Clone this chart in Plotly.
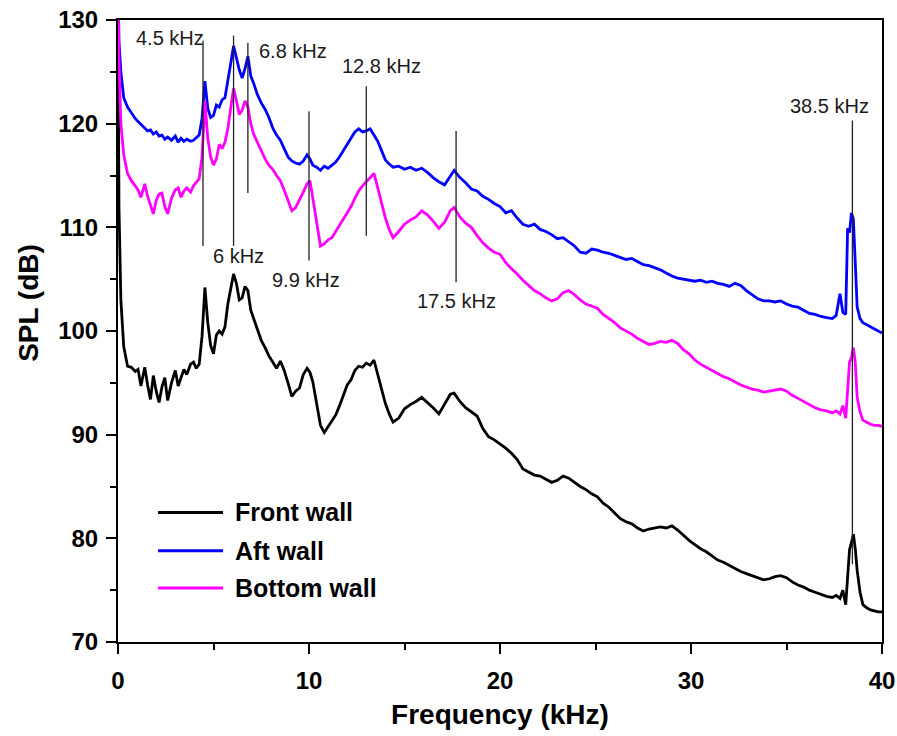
import plotly.graph_objects as go

# ---------------- data ----------------
freq = [
    0, 0.05, 0.15, 0.3, 0.5, 0.7, 0.9, 1.05, 1.2, 1.4,
    1.55, 1.7, 1.85, 2.0, 2.15, 2.3, 2.45, 2.6, 2.8, 3.0,
    3.15, 3.3, 3.45, 3.6, 3.8, 3.95, 4.1, 4.25, 4.4, 4.55,
    4.7, 4.85, 5.0, 5.15, 5.3, 5.45, 5.6, 5.75, 5.9, 6.05,
    6.2, 6.35, 6.5, 6.65, 6.8, 6.95, 7.1, 7.3, 7.5, 7.7,
    7.9, 8.1, 8.3, 8.5, 8.7, 8.9, 9.1, 9.3, 9.5, 9.7,
    9.9, 10.05, 10.2, 10.4, 10.6, 10.8, 11.0, 11.2, 11.4, 11.6,
    11.8, 12.0, 12.2, 12.4, 12.6, 12.8, 13.0, 13.2, 13.4, 13.6,
    13.8, 14.0, 14.2, 14.4, 14.7, 15.0, 15.3, 15.6, 15.9, 16.2,
    16.5, 16.8, 17.1, 17.4, 17.6, 17.9, 18.2, 18.5, 18.8, 19.1,
    19.4, 19.7, 20.0, 20.3, 20.6, 20.9, 21.2, 21.5, 21.8, 22.1,
    22.4, 22.7, 23.0, 23.3, 23.6, 23.9, 24.2, 24.5, 24.8, 25.1,
    25.4, 25.7, 26.0, 26.3, 26.6, 26.9, 27.2, 27.5, 27.8, 28.1,
    28.4, 28.7, 29.0, 29.3, 29.6, 29.9, 30.2, 30.5, 30.8, 31.1,
    31.4, 31.7, 32.0, 32.3, 32.6, 32.9, 33.2, 33.5, 33.8, 34.1,
    34.4, 34.7, 35.0, 35.3, 35.6, 35.9, 36.2, 36.5, 36.8, 37.1,
    37.4, 37.6, 37.8, 37.95, 38.1, 38.2, 38.3, 38.4, 38.5, 38.6,
    38.7, 38.85, 39.0, 39.2, 39.4, 39.6, 39.8, 40.0,
]

spl_front = [
    131, 112, 103, 98.5, 96.6, 96.5, 96.1, 96.3, 94.7, 96.5,
    94.8, 93.4, 95.7, 94.2, 93.1, 94.6, 95.5, 93.3, 95.0, 96.2,
    94.7, 95.6, 96.3, 95.8, 96.8, 97.0, 96.4, 96.8, 99.5, 104.2,
    100.8, 98.6, 97.8, 99.6, 100.0, 99.7, 100.4, 102.6, 104.0, 105.5,
    104.6, 103.0, 103.2, 104.3, 103.9, 102.0, 101.2, 100.2, 99.1, 98.4,
    97.6, 97.0, 96.4, 97.1, 96.2, 95.0, 93.7, 94.2, 94.5, 95.8,
    96.4, 96.0, 95.1, 93.0, 90.9, 90.2, 90.8, 91.4, 91.9, 92.8,
    93.9, 94.8, 95.3, 96.2, 96.6, 96.5, 96.9, 96.7, 97.2, 95.8,
    94.4, 93.0, 92.0, 91.2, 91.6, 92.5, 92.9, 93.2, 93.6, 93.1,
    92.6, 92.0, 93.0, 93.9, 94.0, 93.2, 92.6, 92.2, 91.8, 90.6,
    89.8, 89.5, 89.1, 88.7, 88.2, 87.6, 86.7, 86.4, 86.1, 86.0,
    85.7, 85.4, 85.6, 86.0, 85.8, 85.4, 85.0, 84.7, 84.3, 84.0,
    83.4, 83.0, 82.4, 81.9, 81.6, 81.4, 81.0, 80.7, 80.9, 81.0,
    81.1, 81.0, 81.2, 80.8, 80.3, 79.8, 79.4, 79.0, 78.7, 78.3,
    77.9, 77.7, 77.4, 77.1, 76.8, 76.6, 76.4, 76.2, 76.0, 76.1,
    76.3, 76.4, 76.2, 75.8, 75.5, 75.3, 75.0, 74.8, 74.6, 74.4,
    74.3, 74.5, 74.2, 75.0, 73.6, 76.5, 78.9, 79.6, 80.4, 79.0,
    76.9, 74.8, 73.6, 73.3, 73.1, 73.0, 72.9, 72.9,
]

spl_aft = [
    135, 128, 125, 122.5, 121.6, 121.0, 120.5, 120.2, 119.9, 119.5,
    119.3, 119.4, 119.0, 119.2, 118.8, 118.9, 118.5, 118.7, 118.4, 118.8,
    118.2, 118.6, 118.3, 118.5, 118.3, 118.4, 118.7, 118.9, 120.5, 124.1,
    121.5, 120.6, 120.8, 121.8, 121.6, 122.3, 122.5, 124.0, 125.8, 127.5,
    126.4, 125.2, 124.4, 125.3, 126.5, 124.6, 123.9, 122.8, 122.0, 121.4,
    120.6, 119.6, 118.9, 118.4, 117.6, 116.8, 116.4, 116.2, 116.1, 116.4,
    117.0, 116.6, 116.0, 115.8, 115.5, 115.9, 115.7, 116.0, 116.3, 116.8,
    117.4, 118.0, 118.6, 119.2, 119.5, 119.2, 119.3, 119.5, 118.9, 118.3,
    117.4, 116.5, 116.1, 115.8, 115.9, 115.6, 115.8, 115.5, 115.7, 115.3,
    114.8, 114.4, 114.1, 114.9, 115.5, 114.8, 114.3, 113.7, 113.5, 113.0,
    112.7, 112.3, 112.0, 111.4, 111.6, 110.9, 110.3, 110.1, 110.3, 109.8,
    109.6, 109.3, 108.9, 109.0, 108.6, 108.2, 107.6, 107.5, 107.9, 107.8,
    107.6, 107.5, 107.3, 107.1, 106.9, 107.0, 106.7, 106.4, 106.3, 106.1,
    105.9, 105.6, 105.3, 105.1, 105.0, 104.9, 104.8, 104.9, 104.7, 104.8,
    104.6, 104.5, 104.3, 104.6, 104.4, 103.9, 103.5, 103.1, 102.9, 102.9,
    102.8, 102.9, 102.6, 102.4, 102.3, 102.0, 101.7, 101.6, 101.4, 101.3,
    101.2, 101.5, 103.6, 101.8, 101.6, 109.9, 109.5, 111.4, 110.8, 106.6,
    102.3, 101.2, 100.8, 100.6, 100.4, 100.2, 100.0, 99.8,
]

spl_bottom = [
    133, 126, 120, 117.0, 115.2, 114.5, 114.0, 113.6, 112.9, 114.2,
    113.0, 112.2, 111.3, 112.6, 113.2, 113.3, 112.0, 111.3, 112.8, 113.6,
    113.8, 112.9, 113.5, 113.8, 113.4, 114.0, 114.3, 114.7, 116.8, 122.2,
    118.6, 116.8, 116.0, 116.6, 118.0, 117.6, 118.2, 119.5, 121.5, 123.4,
    122.2, 120.9, 121.3, 122.2, 121.6, 120.0, 119.0, 118.2, 117.5, 116.6,
    116.0, 115.6, 115.0, 114.5, 113.6, 112.5, 111.6, 111.9, 112.6, 113.4,
    114.2, 114.5, 112.8, 110.4, 108.2, 108.4, 108.8, 109.0, 109.6, 110.3,
    110.9, 111.4, 112.0, 112.8, 113.5, 114.0, 114.4, 114.7, 115.2, 113.8,
    112.4, 110.9, 109.8, 109.0, 109.6, 110.3, 110.7, 111.0, 111.6, 111.2,
    110.6, 109.9, 110.5, 111.6, 111.9, 111.0, 110.4, 110.0, 109.2, 108.5,
    108.0, 107.6, 107.4, 106.6, 106.0, 105.5, 104.9, 104.4, 103.9, 103.6,
    103.2, 102.9, 103.1, 103.7, 103.9, 103.5, 103.0, 102.6, 102.4, 102.2,
    101.6, 101.2, 100.8, 100.3, 100.0, 99.7, 99.3, 99.0, 98.7, 98.8,
    99.0, 98.9, 99.1, 98.8, 98.2, 97.8, 97.2, 96.8, 96.5, 96.2,
    95.9, 95.6, 95.4, 95.1, 94.8, 94.6, 94.4, 94.3, 94.1, 94.2,
    94.3, 94.4, 94.2, 93.8, 93.5, 93.2, 92.9, 92.6, 92.4, 92.3,
    92.1, 92.3, 92.0, 92.8, 91.6, 94.5, 97.0, 97.4, 98.4, 97.0,
    93.6, 92.2, 91.4, 91.2, 91.0, 90.9, 90.9, 90.8,
]

series_names = ["Front wall", "Aft wall", "Bottom wall"]
series_colors = ["#000000", "#0000FF", "#FF00FF"]

# peak markers: frequency position, line top/bottom (dB), label
marker_freq = [4.45, 6.05, 6.8, 10.0, 13.0, 17.7, 38.45]
marker_top = [128.0, 128.5, 127.8, 121.2, 123.6, 119.3, 120.3]
marker_bottom = [108.2, 108.2, 113.3, 106.8, 109.2, 104.7, 77.5]
marker_labels = ["4.5 kHz", "6 kHz", "6.8 kHz", "9.9 kHz", "12.8 kHz", "17.5 kHz", "38.5 kHz"]
label_x = [4.6, 6.3, 7.3, 9.85, 11.6, 17.7, 37.27]
label_y = [128.3, 107.2, 127.0, 104.9, 125.6, 102.9, 121.7]
label_anchor = ["right", "center", "left", "center", "left", "center", "center"]

x_ticks = [0, 10, 20, 30, 40]
y_ticks = [70, 80, 90, 100, 110, 120, 130]

FONT = "Liberation Sans, Arial, sans-serif"

fig = go.Figure()
spl_all = [spl_front, spl_aft, spl_bottom]
for name, col, spl in zip(series_names, series_colors, spl_all):
    fig.add_trace(go.Scatter(x=freq, y=spl, mode="lines", name=name,
                             line=dict(color=col, width=2.8),
                             showlegend=False))

# vertical peak markers
for f, yt, yb in zip(marker_freq, marker_top, marker_bottom):
    fig.add_shape(type="line", xref="x", yref="y", x0=f, x1=f, y0=yb, y1=yt,
                  line=dict(color="#222222", width=1.3))

for txt, lx, ly, anc in zip(marker_labels, label_x, label_y, label_anchor):
    fig.add_annotation(x=lx, y=ly, xref="x", yref="y", text=txt, showarrow=False,
                       xanchor=anc, yanchor="middle",
                       font=dict(family=FONT, size=20, color="#1a1a1a"))

# manual legend (inside plot, lower left)
leg_x0, leg_x1, leg_tx = 2.1, 5.5, 6.0
leg_y = [82.5, 78.8, 75.2]
for name, col, ly in zip(series_names, series_colors, leg_y):
    fig.add_shape(type="line", xref="x", yref="y", x0=leg_x0, x1=leg_x1, y0=ly, y1=ly,
                  line=dict(color=col, width=3))
    fig.add_annotation(x=leg_tx, y=ly, xref="x", yref="y", text=name, showarrow=False,
                       xanchor="left", yanchor="middle",
                       font=dict(family=FONT, size=25, color="#000000", weight="bold"))

# y-axis title placed as in the reference (slightly above plot centre)
fig.add_annotation(x=-0.118, y=0.545, xref="paper", yref="paper", text="SPL (dB)",
                   textangle=-90, showarrow=False, xanchor="center", yanchor="middle",
                   font=dict(family=FONT, size=28, color="#000000", weight="bold"))

axis_common = dict(
    showline=True, linecolor="#000000", linewidth=2, mirror=True,
    ticks="outside", ticklen=10, tickwidth=2, tickcolor="#000000",
    showgrid=False, zeroline=False, automargin=False,
    tickfont=dict(family=FONT, size=24, color="#000000", weight="bold"),
)

fig.update_layout(
    width=897, height=736,
    margin=dict(l=118, r=15, t=20, b=94),
    paper_bgcolor="white", plot_bgcolor="white",
    showlegend=False,
    xaxis=dict(range=[0, 40], tickvals=x_ticks, ticklabelstandoff=6,
               minor=dict(dtick=5, ticks="outside", ticklen=6, tickwidth=2, tickcolor="#000000"),
               title=dict(text="Frequency (kHz)", standoff=12,
                          font=dict(family=FONT, size=28, color="#000000", weight="bold")),
               **axis_common),
    yaxis=dict(range=[70, 130], tickvals=y_ticks, ticklabelstandoff=3,
               minor=dict(dtick=5, ticks="outside", ticklen=6, tickwidth=2, tickcolor="#000000"),
               **axis_common),
)

fig.write_html("out.html")
